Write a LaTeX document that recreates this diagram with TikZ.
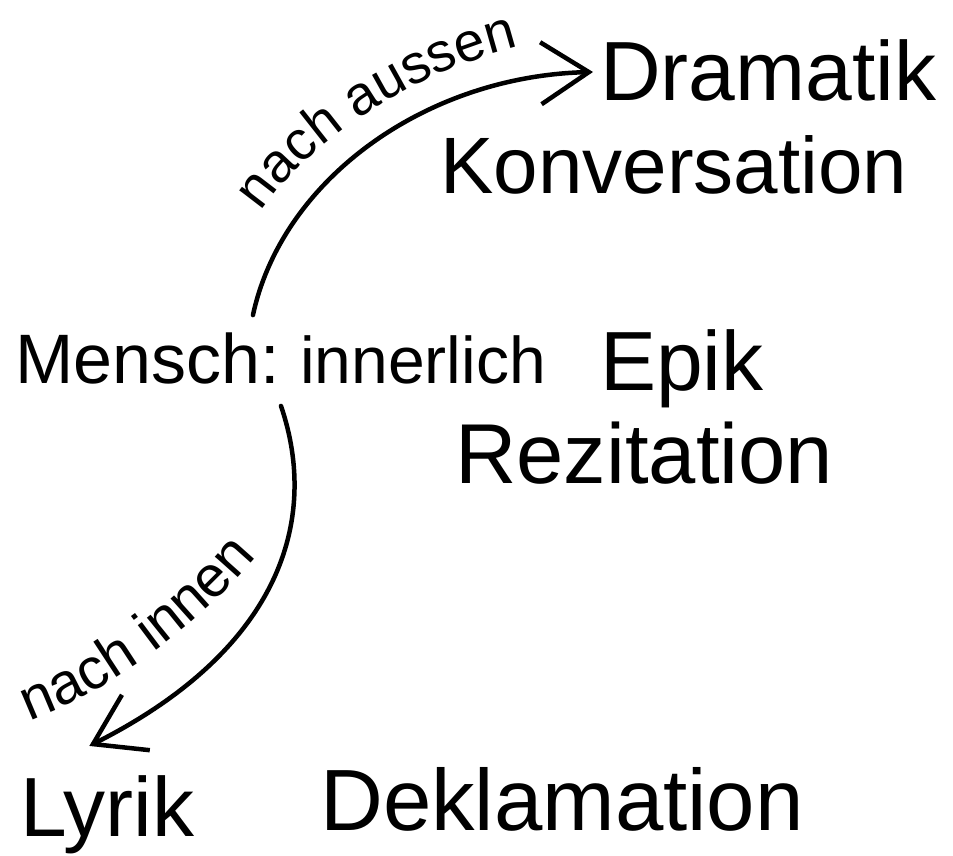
\documentclass[tikz,border=0pt]{standalone}
\usepackage{fontspec}
\setmainfont{Liberation Sans}
\usetikzlibrary{arrows.meta,calc,decorations.text}
\begin{document}
\begin{tikzpicture}[x=1pt,y=-1pt,
  lbl/.style={inner sep=0pt, anchor=base west, text=black},
  conn/.style={line width=4.5pt, line cap=round, line join=round, -{Straight Barb[length=48pt,width=62pt]}},
  curvetext/.style={decorate, decoration={text along path, text align=center, text={#1}}}
]
\useasboundingbox[fill=white] (0,0) rectangle (953,855);

\node[lbl, font=\fontsize{84}{84}\selectfont] (dramatik) at (600,100) {Dramatik};
\node[lbl, font=\fontsize{80}{80}\selectfont] (konv) at (440,193) {Konversation};
\node[lbl, font=\fontsize{70}{70}\selectfont] (mensch) at (15,383) {Mensch:};
\node[lbl, font=\fontsize{66}{66}\selectfont] (innerlich) at (300,383) {innerlich};
\node[lbl, font=\fontsize{84}{84}\selectfont] (epik) at (600,390) {Epik};
\node[lbl, font=\fontsize{85}{85}\selectfont] (rezitation) at (455,483) {Rezitation};
\node[lbl, font=\fontsize{84}{84}\selectfont] (lyrik) at (20,836) {Lyrik};
\node[lbl, font=\fontsize{87}{87}\selectfont] (deklamation) at (320,830) {Deklamation};

\draw[conn] ($(mensch.north east)+(-27,-17)$) .. controls (282,180) and (425,76) .. ($(dramatik.west)+(-7,2)$);
\draw[conn] ($(mensch.south east)+(1,22)$) .. controls (320,520) and (280,650) .. ($(lyrik.north)+(-18,-29)$);

\path[curvetext={|\fontsize{55}{55}\selectfont|nach aussen}] (255,222) .. controls (298,150) and (405,72) .. (530,44);
\path[curvetext={|\fontsize{58}{58}\selectfont|nach innen}] (10,728) .. controls (100,700) and (205,625) .. (270,540);
\end{tikzpicture}
\end{document}
